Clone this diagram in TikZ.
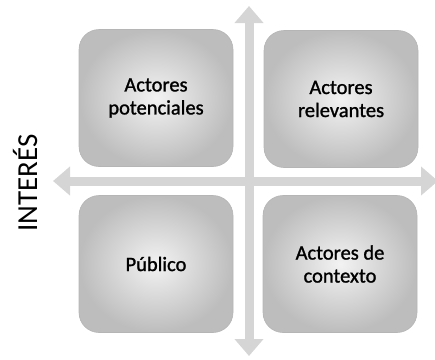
\documentclass[tikz,border=0pt]{standalone}
\usepackage{fontspec}
\setmainfont{Carlito}
\newfontfamily\boxfont[FakeBold=1.2]{Carlito}
\usetikzlibrary{arrows.meta}
\tikzset{
  quad/.style={rounded corners=20pt, minimum width=154pt, minimum height=137pt,
    inner color=gray!10, outer color=gray!52, draw=gray!58, line width=0.6pt,
    align=center, font=\boxfont\fontsize{20.5}{23}\selectfont, text=black},
  axis/.style={draw=gray!33, line width=9pt,
    {Triangle[width=28pt,length=17pt]}-{Triangle[width=28pt,length=17pt]}},
}
\begin{document}
\begin{tikzpicture}[x=1pt,y=-1pt]
\useasboundingbox (0,0) rectangle (435,359);
\coordinate (top) at (249,6);
\coordinate (bot) at (249,356);
\coordinate (lft) at (53,181);
\coordinate (rgt) at (438,181);
\draw[axis] (lft) -- (rgt);
\draw[axis] (bot) -- (top);
\node[quad] (tl) at (156,98) {Actores\\potenciales};
\node[quad] (tr) at (341,99) {Actores\\relevantes};
\node[quad] (bl) at (156,264) {Público};
\node[quad] (br) at (340,264) {Actores de\\contexto};
\node[rotate=90, font=\fontsize{29}{32}\selectfont, text=black] (interes) at (25,183) {INTERÉS};
\end{tikzpicture}
\end{document}
